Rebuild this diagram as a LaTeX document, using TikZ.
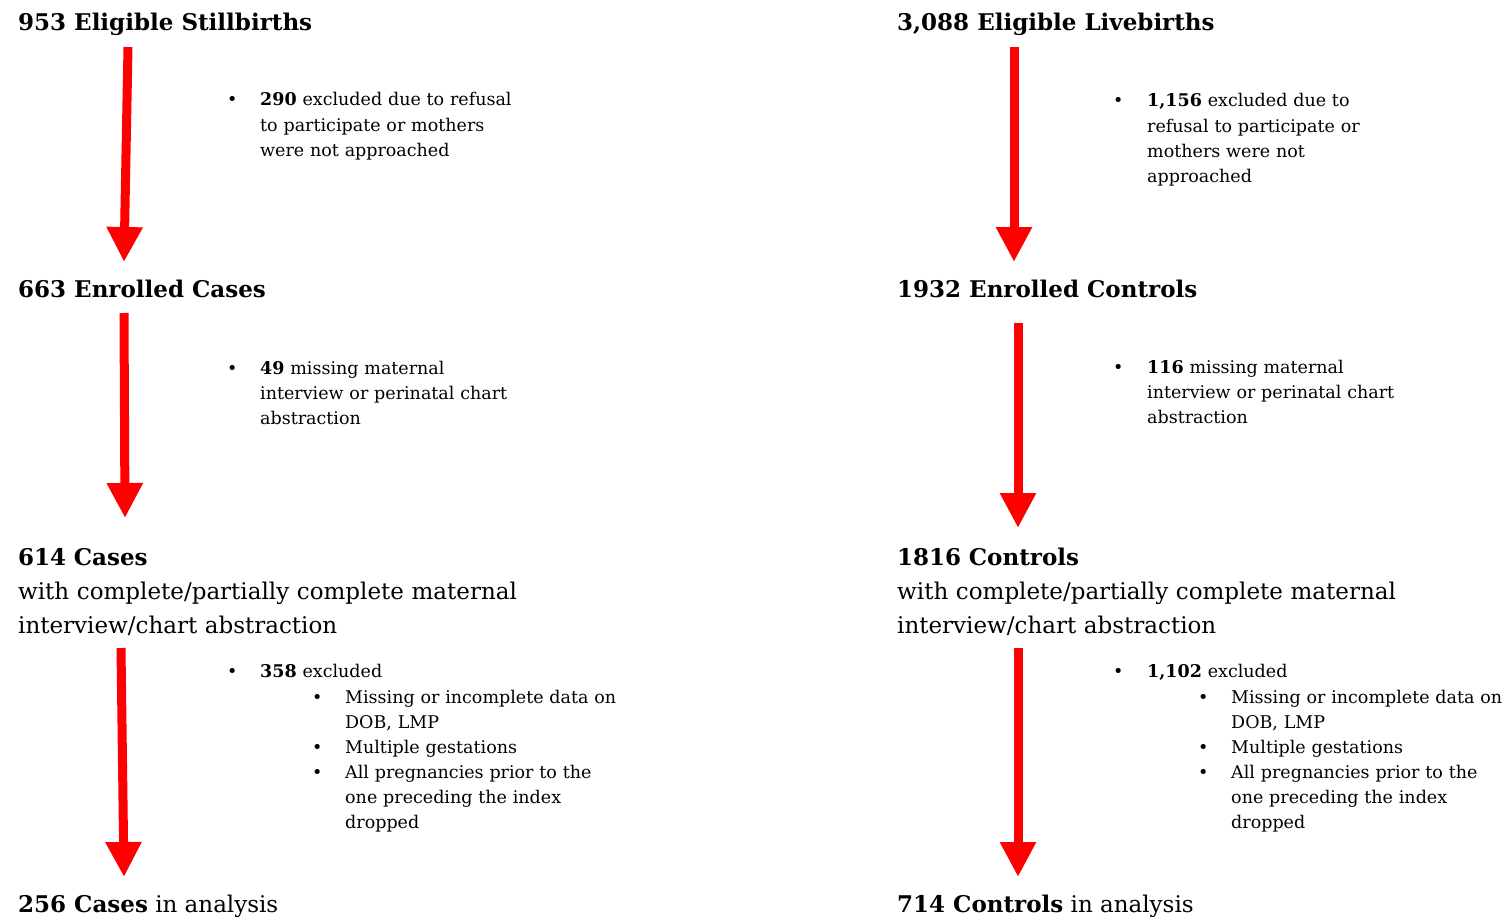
\documentclass[tikz,border=0pt]{standalone}
\usepackage{fontspec}
\setmainfont{DejaVu Serif}
\usetikzlibrary{arrows.meta}

\tikzset{
  head/.style={anchor=base west, inner sep=0pt, font=\fontsize{23}{34}\selectfont},
  note/.style={anchor=base west, inner sep=0pt, align=left, text width=330pt,
    font=\fontsize{17.5}{25.3}\selectfont},
  dot/.style={anchor=base west, inner sep=0pt, font=\fontsize{17.5}{25.3}\selectfont},
  flow/.style={draw=red, line width=9pt, -{Triangle[width=34pt,length=35pt]}},
}

\begin{document}
\begin{tikzpicture}[x=1pt,y=-1pt]
  \useasboundingbox (0,0) rectangle (1504,920);

  % stillbirths (cases)
  \node[head] (stillbirths) at (18,31) {\textbf{953 Eligible Stillbirths}};
  \node[dot] (b1) at (227,106) {•};
  \node[note] (refusedCases) at (260,106) {\textbf{290} excluded due to refusal\\to participate or mothers\\were not approached};

  \node[head] (enrolledCases) at (18,297) {\textbf{663 Enrolled Cases}};
  \node[dot] (b2) at (227,374) {•};
  \node[note] (missingCases) at (260,374) {\textbf{49} missing maternal\\interview or perinatal chart\\abstraction};

  \node[head, align=left, text width=600pt] (cases) at (18,565) {\textbf{614 Cases}\\with complete/partially complete maternal\\interview/chart abstraction};
  \node[dot] (b3) at (227,677) {•};
  \node[note] (droppedCases) at (260,677) {\textbf{358} excluded};
  \node[dot] (b3a) at (312,703) {•};
  \node[note] (dobCases) at (345,703) {Missing or incomplete data on\\DOB, LMP};
  \node[dot] (b3b) at (312,753) {•};
  \node[note] (multiCases) at (345,753) {Multiple gestations};
  \node[dot] (b3c) at (312,778) {•};
  \node[note] (priorCases) at (345,778) {All pregnancies prior to the\\one preceding the index\\dropped};

  \node[head] (casesAnalysis) at (18,912) {\textbf{256 Cases} in analysis};

  % livebirths (controls)
  \node[head] (livebirths) at (897,31) {\textbf{3,088 Eligible Livebirths}};
  \node[dot] (c1) at (1113,107) {•};
  \node[note] (refusedControls) at (1147,107) {\textbf{1,156} excluded due to\\refusal to participate or\\mothers were not\\approached};

  \node[head] (enrolledControls) at (897,297) {\textbf{1932 Enrolled Controls}};
  \node[dot] (c2) at (1113,373) {•};
  \node[note] (missingControls) at (1147,373) {\textbf{116} missing maternal\\interview or perinatal chart\\abstraction};

  \node[head, align=left, text width=600pt] (controls) at (897,565) {\textbf{1816 Controls}\\with complete/partially complete maternal\\interview/chart abstraction};
  \node[dot] (c3) at (1113,677) {•};
  \node[note] (droppedControls) at (1147,677) {\textbf{1,102} excluded};
  \node[dot] (c3a) at (1198,703) {•};
  \node[note] (dobControls) at (1231,703) {Missing or incomplete data on\\DOB, LMP};
  \node[dot] (c3b) at (1198,753) {•};
  \node[note] (multiControls) at (1231,753) {Multiple gestations};
  \node[dot] (c3c) at (1198,778) {•};
  \node[note] (priorControls) at (1231,778) {All pregnancies prior to the\\one preceding the index\\dropped};

  \node[head] (controlsAnalysis) at (897,912) {\textbf{714 Controls} in analysis};

  % arrow ends
  \coordinate (s1) at (128,47);  \coordinate (e1) at (124,262);
  \coordinate (s2) at (124,313); \coordinate (e2) at (125,518);
  \coordinate (s3) at (121,648); \coordinate (e3) at (124,877);
  \coordinate (t1) at (1014,47);  \coordinate (f1) at (1014,262);
  \coordinate (t2) at (1018,323); \coordinate (f2) at (1018,528);
  \coordinate (t3) at (1018,648); \coordinate (f3) at (1018,877);

  \foreach \a/\b in {s1/e1, s2/e2, s3/e3, t1/f1, t2/f2, t3/f3}
    \draw[flow] (\a) -- (\b);
\end{tikzpicture}
\end{document}
